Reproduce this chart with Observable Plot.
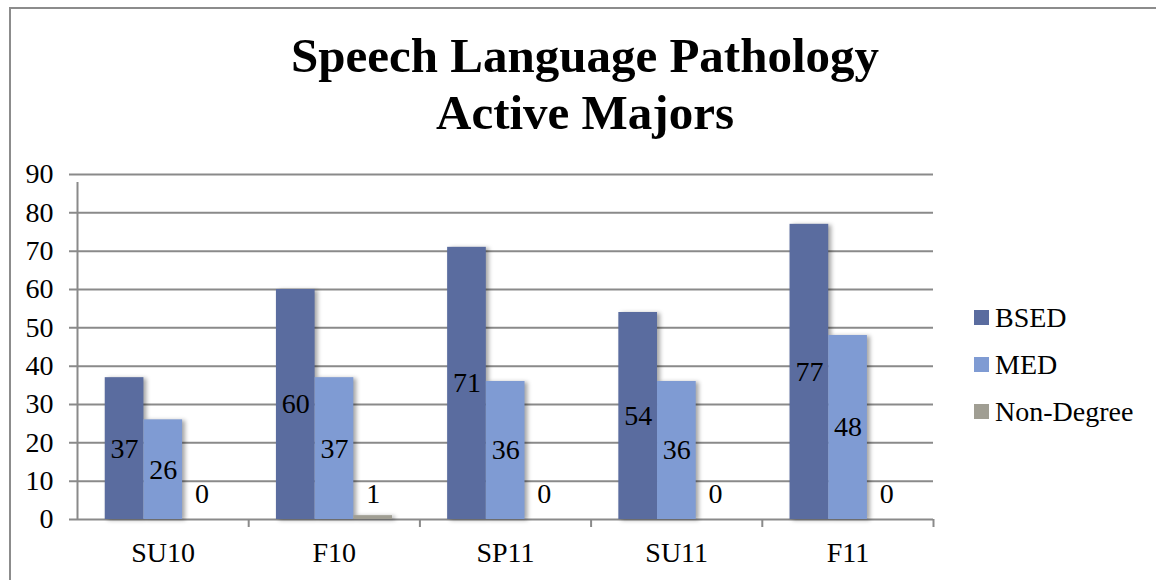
<!DOCTYPE html>
<html>
<head>
<meta charset="utf-8">
<script src="https://cdn.jsdelivr.net/npm/d3@7"></script>
<script src="https://cdn.jsdelivr.net/npm/@observablehq/plot@0.6"></script>
<style>
  html, body { margin: 0; padding: 0; background: #fff; width: 1156px; height: 580px; overflow: hidden; }
  #frame { position: absolute; left: 9px; top: 7px; width: 1170px; height: 600px; border: 2px solid #8c8c8c; box-sizing: border-box; }
  #title { position: absolute; left: 0; top: 27px; width: 1170px; text-align: center; font-family: "Liberation Serif", "Times New Roman", "DejaVu Serif", serif; font-weight: bold; font-size: 49px; line-height: 57px; color: #000; }
  #chart { position: absolute; left: 0; top: 0; }
  #legend { position: absolute; left: 974px; top: 294px; font-family: "Liberation Serif", "Times New Roman", "DejaVu Serif", serif; font-size: 28px; color: #000; }
  .item { height: 47px; display: flex; align-items: center; }
  .sw { width: 15px; height: 15px; margin-right: 6px; display: inline-block; }
  #chart svg .bars { filter: drop-shadow(3px 1px 2px rgba(0,0,0,0.35)); }
  #chart svg text { font-family: "Liberation Serif", "Times New Roman", "DejaVu Serif", serif !important; font-size: 28px; }
</style>
</head>
<body>
<div id="frame"></div>
<div id="title">Speech Language Pathology<br>Active Majors</div>
<div id="chart"></div>
<div id="legend"></div>
<script>
const categories = ["SU10", "F10", "SP11", "SU11", "F11"];
const seriesNames = ["BSED", "MED", "Non-Degree"];
const bsed = [37, 60, 71, 54, 77];
const med = [26, 37, 36, 36, 48];
const nonDegree = [0, 1, 0, 0, 0];
const yTicks = [0, 10, 20, 30, 40, 50, 60, 70, 80, 90];
const colors = ["#5a6c9f", "#7f9bd3", "#a09e93"];

const seriesValues = [bsed, med, nonDegree];
const rows = [];
categories.forEach((c, ci) => {
  seriesNames.forEach((s, si) => {
    rows.push({category: c, ci, series: s, si, value: seriesValues[si][ci]});
  });
});

// layout within each category band (fractions of a band)
const groupOffset = 0.162;
const barW = 0.226;
const x1 = d => d.ci + groupOffset + d.si * barW;
const x2 = d => d.ci + groupOffset + (d.si + 1) * barW;
const xc = d => d.ci + groupOffset + (d.si + 0.5) * barW;
const boundaries = d3.range(categories.length + 1);
const centers = categories.map((c, i) => ({category: c, x: i + 0.5}));

const font = "'Liberation Serif', 'Times New Roman', 'DejaVu Serif', serif";

const plot = Plot.plot({
  width: 1156,
  height: 580,
  marginLeft: 77,
  marginRight: 223,
  marginTop: 174,
  marginBottom: 61,
  style: {fontFamily: font, fontSize: "28px", background: "transparent", overflow: "visible"},
  x: {type: "linear", domain: [0, categories.length], axis: null},
  y: {domain: [0, 90], axis: null},
  color: {domain: seriesNames, range: colors},
  marks: [
    Plot.ruleY(yTicks, {x1: 0, x2: categories.length, stroke: "#8a8a8a", strokeWidth: 2, insetLeft: -8}),
    Plot.ruleX([0], {y1: 0, y2: 90, stroke: "#8a8a8a", strokeWidth: 2, insetBottom: -8}),
    Plot.ruleX(boundaries.slice(1), {y1: 0, y2: 0, stroke: "#8a8a8a", strokeWidth: 2, insetBottom: -8}),
    Plot.text(yTicks, {x: 0, y: d => d, text: d => String(d), textAnchor: "end", dx: -24, fill: "#000"}),
    Plot.rectY(rows, {x1, x2, y1: 0, y2: "value", fill: "series", className: "bars"}),
    Plot.text(rows.filter(d => d.value >= 10), {x: xc, y: d => d.value / 2, text: d => String(d.value), fill: "#000"}),
    Plot.text(rows.filter(d => d.value < 10), {x: xc, y: 0, dy: -25, text: d => String(d.value), fill: "#000"}),
    Plot.text(centers, {x: "x", y: 0, dy: 34, text: "category", fill: "#000"})
  ]
});
document.getElementById("chart").appendChild(plot);

const legend = d3.select("#legend");
seriesNames.forEach((s, i) => {
  const it = legend.append("div").attr("class", "item");
  it.append("span").attr("class", "sw").style("background", colors[i]);
  it.append("span").text(s);
});
</script>
</body>
</html>
